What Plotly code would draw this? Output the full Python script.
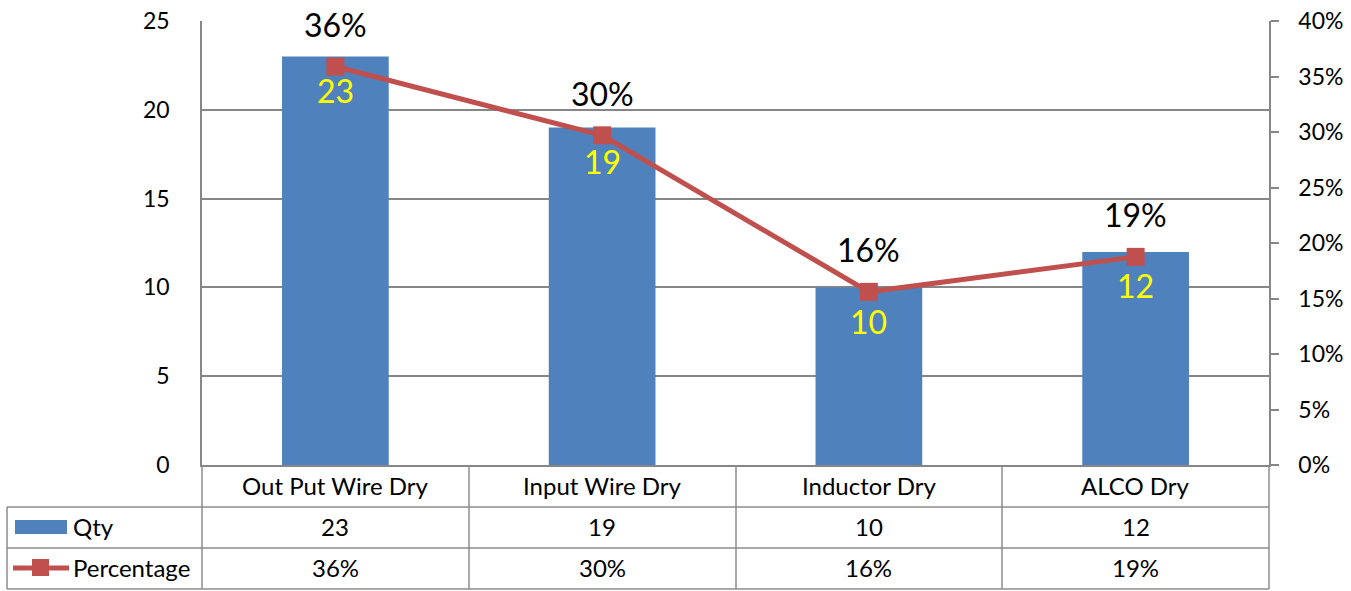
import plotly.graph_objects as go

categories = ["Out Put Wire Dry", "Input Wire Dry", "Inductor Dry", "ALCO Dry"]
qty = [23, 19, 10, 12]
percentage = [0.359, 0.297, 0.156, 0.1875]
pct_labels = ["36%", "30%", "16%", "19%"]

BLUE = "#4F81BD"
RED = "#C0504D"
GRID = "#868686"
FONT = "Lato"

W, H = 1351, 591
L, R, T, B = 202, 82, 21, 126
PW, PH = W - L - R, H - T - B

def px_y(py):
    return (H - B - py) / PH

def px_x(px):
    return (px - L) / PW

fig = go.Figure()
fig.add_trace(go.Bar(x=categories, y=qty, name="Qty", marker=dict(color=BLUE, line=dict(width=0)),
                     yaxis="y", showlegend=False))
fig.add_trace(go.Scatter(x=categories, y=percentage, name="Percentage", mode="lines+markers",
                         line=dict(color=RED, width=5), marker=dict(symbol="square", size=18, color=RED),
                         yaxis="y2", showlegend=False))

ann = []
for c, q in zip(categories, qty):
    ann.append(dict(x=c, y=q, xref="x", yref="y", text=str(q), showarrow=False, yshift=-34,
                    font=dict(family=FONT, size=32, color="#FFFF00")))
for c, p, t in zip(categories, percentage, pct_labels):
    ann.append(dict(x=c, y=p, xref="x", yref="y2", text=t, showarrow=False, yshift=42,
                    font=dict(family=FONT, size=32, color="black")))

# data table text
rows_y = [485, 526, 567]
for c, q, t in zip(categories, qty, pct_labels):
    for txt, ry in zip([c, str(q), t], rows_y):
        ann.append(dict(x=c, y=px_y(ry), xref="x", yref="paper", text=txt, showarrow=False,
                        yanchor="middle", font=dict(family=FONT, size=24, color="black")))
ann.append(dict(x=px_x(71), y=px_y(526), xref="paper", yref="paper", text="Qty", showarrow=False,
                xanchor="left", yanchor="middle", font=dict(family=FONT, size=24, color="black")))
ann.append(dict(x=px_x(71), y=px_y(567), xref="paper", yref="paper", text="Percentage", showarrow=False,
                xanchor="left", yanchor="middle", font=dict(family=FONT, size=24, color="black")))

shapes = []
lc = dict(color="#8C8C8C", width=1.5)
def hline(x0, x1, y):
    shapes.append(dict(type="line", xref="paper", yref="paper", x0=px_x(x0), x1=px_x(x1),
                       y0=px_y(y), y1=px_y(y), line=lc))
def vline(x, y0, y1):
    shapes.append(dict(type="line", xref="paper", yref="paper", x0=px_x(x), x1=px_x(x),
                       y0=px_y(y0), y1=px_y(y1), line=lc))
hline(7, 1269, 507)
hline(7, 1269, 548)
hline(7, 1269, 589)
vline(7, 507, 589)
for x in [202, 469, 736, 1002, 1269]:
    vline(x, 465, 589)
# legend keys
shapes.append(dict(type="rect", xref="paper", yref="paper", x0=px_x(15), x1=px_x(67),
                   y0=px_y(534), y1=px_y(520), fillcolor=BLUE, line=dict(width=0)))
shapes.append(dict(type="line", xref="paper", yref="paper", x0=px_x(13), x1=px_x(69),
                   y0=px_y(568), y1=px_y(568), line=dict(color=RED, width=5)))
shapes.append(dict(type="rect", xref="paper", yref="paper", x0=px_x(32), x1=px_x(49),
                   y0=px_y(576), y1=px_y(559), fillcolor=RED, line=dict(width=0)))

fig.update_layout(
    width=W, height=H, margin=dict(l=L, r=R, t=T, b=B),
    paper_bgcolor="white", plot_bgcolor="white",
    bargap=0.6,
    xaxis=dict(showticklabels=False, showgrid=False, showline=True, linecolor=GRID, linewidth=1.5,
               ticks="", zeroline=False, automargin=False),
    yaxis=dict(range=[0, 25], dtick=5, showgrid=True, gridcolor=GRID, gridwidth=1.5,
               showline=True, linecolor=GRID, linewidth=1.5, zeroline=False, ticks="",
               automargin=False,
               ticklabelstandoff=26, tickfont=dict(family=FONT, size=23, color="black")),
    yaxis2=dict(range=[0, 0.4], dtick=0.05, tickformat=".0%", overlaying="y", side="right",
                showgrid=False, showline=True, linecolor=GRID, linewidth=1.5, zeroline=False,
                automargin=False,
                ticks="outside", ticklen=8, tickcolor=GRID, tickwidth=1.5, ticklabelstandoff=15,
                tickfont=dict(family=FONT, size=23, color="black")),
    annotations=ann, shapes=shapes,
)
fig.write_html("out.html")
